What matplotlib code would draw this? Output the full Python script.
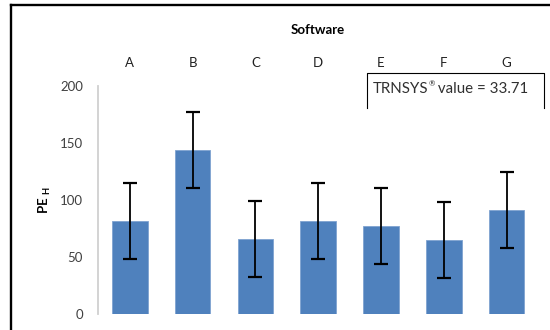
import matplotlib
matplotlib.use("Agg")
import matplotlib.pyplot as plt
from matplotlib.lines import Line2D

categories = ["A", "B", "C", "D", "E", "F", "G"]
pe_h = [81.6, 143.9, 65.8, 81.6, 77.2, 64.9, 91.2]
err = [33.71, 33.71, 33.71, 33.71, 33.71, 33.71, 33.71]
yticks = [0, 50, 100, 150, 200]

plt.rcParams['font.family'] = ['Lato', 'DejaVu Sans']

W, H = 550, 330
fig = plt.figure(figsize=(W / 100, H / 100), dpi=100)
ax = fig.add_axes([98.4 / W, 1 - 314 / H, (538 - 98.4) / W, (314 - 86) / H])

x = list(range(len(categories)))
ax.bar(x, pe_h, width=0.565, color="#4F81BD", edgecolor="#7FA3D0", linewidth=0.6, zorder=2)
ax.errorbar(x, pe_h, yerr=err, fmt="none", ecolor="black", elinewidth=1.3,
            capsize=5, capthick=1.6, zorder=3)

ax.set_xlim(-0.5, 6.5)
ax.set_ylim(0, 200)
ax.set_yticks(yticks)
ax.set_yticklabels([str(v) for v in yticks], fontsize=9.5, color="#404040")
ax.tick_params(axis="y", length=0, pad=11)

ax.xaxis.tick_top()
ax.set_xticks(x)
ax.set_xticklabels(categories, fontsize=9.5, color="#202020")
ax.tick_params(axis="x", length=0, pad=12)
ax.xaxis.set_label_position("top")
ax.set_xlabel("Software", fontsize=9.5, fontweight="bold", labelpad=17)

ax.set_ylabel("PE $_{\\mathregular{H}}$", fontsize=9.5, fontweight="bold", labelpad=5)

for s in ["top", "right", "bottom"]:
    ax.spines[s].set_visible(False)
ax.spines["left"].set_color("#D0D0D0")
ax.spines["left"].set_linewidth(1.3)

# outer chart border (cropped)
fig.add_artist(Line2D([11 / W, 11 / W], [0, 1 - 4.5 / H], transform=fig.transFigure,
                      color="black", linewidth=1.7))
fig.add_artist(Line2D([11 / W, 1], [1 - 4.5 / H, 1 - 4.5 / H], transform=fig.transFigure,
                      color="black", linewidth=1.7))

# text box
bx0, bx1, by0, by1 = 367 / W, 544 / W, 1 - 108 / H, 1 - 72.7 / H
fig.add_artist(Line2D([bx0, bx0, bx1, bx1], [by0, by1, by1, by0], transform=fig.transFigure,
                      color="black", linewidth=0.8))

renderer = fig.canvas.get_renderer()
ty = 1 - 89 / H
t1 = fig.text(373 / W, ty, "TRNSYS", fontsize=10.8, color="#303030", ha="left", va="center")
e1 = t1.get_window_extent(renderer)
t2 = fig.text((e1.x1 + 0.5) / W, ty + 5 / H, "®", fontsize=5.5, color="#303030",
              ha="left", va="center")
e2 = t2.get_window_extent(renderer)
fig.text((e2.x1 - 1) / W, ty, " value = 33.71", fontsize=10.8, color="#303030",
         ha="left", va="center")

fig.savefig("out.png", dpi=100)
